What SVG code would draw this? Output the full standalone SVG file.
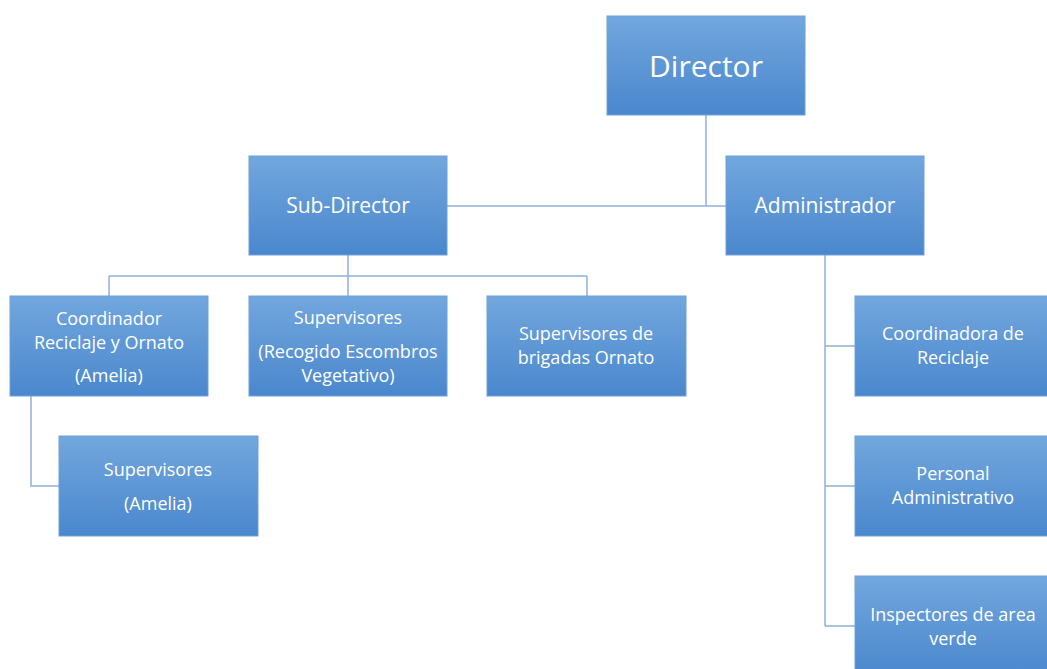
<svg xmlns="http://www.w3.org/2000/svg" width="1047" height="669" viewBox="0 0 1047 669">
<style>
.box{fill:url(#g);stroke:#6e9fd6;stroke-width:1}
.t{font-family:"Open Sans","Liberation Sans",Arial,sans-serif;font-size:18px;fill:#ffffff;text-anchor:middle;dominant-baseline:central}
.big{font-size:30px}
.mid{font-size:21px}
.c{fill:none;stroke:#8db3da;stroke-width:1.5}
</style>
<defs>
<linearGradient id="g" x1="0" y1="0" x2="0" y2="1">
<stop offset="0" stop-color="#72a7de"/>
<stop offset="1" stop-color="#4a87cd"/>
</linearGradient>
</defs>
<rect width="1047" height="669" fill="#ffffff"/>
<g id="connectors">
<path class="c" d="M706 115V206M447 206H726"/>
<path class="c" d="M348 255V276M109 276H587M109 276V296M348 276V296M587 276V296"/>
<path class="c" d="M31 396V486H59"/>
<path class="c" d="M825 255V626M825 346H855M825 486H855M825 626H855"/>
</g>
<g id="director"><rect class="box" x="607" y="16" width="198" height="99"/><text class="t big" x="706" y="65">Director</text></g>
<g id="subdirector"><rect class="box" x="249" y="156" width="198" height="99"/><text class="t mid" x="348" y="205">Sub-Director</text></g>
<g id="administrador"><rect class="box" x="726" y="156" width="198" height="99"/><text class="t mid" x="825" y="205">Administrador</text></g>
<g id="coordinador"><rect class="box" x="10" y="296" width="198" height="100"/><text class="t" x="109" y="318">Coordinador</text><text class="t" x="109" y="342">Reciclaje y Ornato</text><text class="t" x="109" y="375">(Amelia)</text></g>
<g id="supervisores1"><rect class="box" x="249" y="296" width="198" height="100"/><text class="t" x="348" y="317">Supervisores</text><text class="t" x="348" y="351">(Recogido Escombros</text><text class="t" x="348" y="375">Vegetativo)</text></g>
<g id="supervisores2"><rect class="box" x="487" y="296" width="199" height="100"/><text class="t" x="586" y="333">Supervisores de</text><text class="t" x="586" y="357">brigadas Ornato</text></g>
<g id="supervisores3"><rect class="box" x="59" y="436" width="199" height="100"/><text class="t" x="158" y="469">Supervisores</text><text class="t" x="158" y="503">(Amelia)</text></g>
<g id="coordinadora"><rect class="box" x="855" y="296" width="198" height="100"/><text class="t" x="953" y="333">Coordinadora de</text><text class="t" x="953" y="357">Reciclaje</text></g>
<g id="personal"><rect class="box" x="855" y="436" width="198" height="100"/><text class="t" x="953" y="473">Personal</text><text class="t" x="953" y="497">Administrativo</text></g>
<g id="inspectores"><rect class="box" x="855" y="576" width="198" height="100"/><text class="t" x="953" y="614">Inspectores de area</text><text class="t" x="953" y="638">verde</text></g>
</svg>
